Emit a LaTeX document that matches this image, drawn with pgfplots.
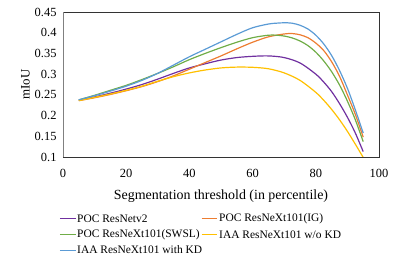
\documentclass[border=0pt]{standalone}
\usepackage{pgfplots}
\pgfplotsset{compat=1.18}
\usepackage{fontspec}
\setmainfont{Liberation Serif}
\definecolor{cpurple}{HTML}{7030A0}
\definecolor{corange}{HTML}{ED7D31}
\definecolor{cgreen}{HTML}{70AD47}
\definecolor{cyellow}{HTML}{FFC000}
\definecolor{cblue}{HTML}{5B9BD5}
\begin{document}
\begin{tikzpicture}
\begin{axis}[
  name=ax,
  scale only axis,
  width=316bp, height=145bp,
  xmin=0, xmax=100, ymin=0.1, ymax=0.45,
  xtick={0,20,...,100},
  ytick={0.1,0.15,...,0.46},
  major tick length=0pt,
  /pgf/number format/assume math mode=true,
  yticklabel style={/pgf/number format/fixed,/pgf/number format/precision=2,font=\fontsize{12.5}{14}\selectfont, xshift=-3bp},
  xticklabel style={font=\fontsize{12.5}{14}\selectfont, yshift=-9bp},
  axis line style={black!80, line width=0.5pt},
  xlabel={Segmentation threshold (in percentile)},
  ylabel={mIoU},
  xlabel style={font=\fontsize{14}{16}\selectfont, yshift=-5bp},
  ylabel style={font=\fontsize{13}{15}\selectfont, yshift=-2bp},
  every axis plot/.append style={smooth, line width=1.2pt, mark=none},
]
\addplot[cpurple] coordinates {(5,0.237)(10,0.245)(15,0.254)(20,0.264)(25,0.275)(30,0.288)(35,0.302)(40,0.315)(45,0.325)(50,0.334)(55,0.340)(60,0.343)(65,0.344)(70,0.340)(75,0.327)(80,0.300)(82.5,0.281)(85,0.258)(87.5,0.229)(90,0.196)(92.5,0.158)(95,0.113)};
\addplot[corange] coordinates {(5,0.236)(10,0.243)(15,0.251)(20,0.260)(25,0.270)(30,0.282)(35,0.296)(40,0.312)(45,0.328)(50,0.344)(55,0.361)(60,0.377)(65,0.390)(70,0.397)(72.5,0.398)(75,0.395)(77.5,0.388)(80,0.375)(82.5,0.357)(85,0.330)(87.5,0.295)(90,0.250)(92.5,0.203)(95,0.148)};
\addplot[cgreen] coordinates {(5,0.238)(10,0.249)(15,0.261)(20,0.273)(25,0.287)(30,0.302)(35,0.318)(40,0.335)(45,0.350)(50,0.364)(55,0.377)(60,0.388)(65,0.394)(67.5,0.394)(70,0.392)(72.5,0.3875)(75,0.380)(77.5,0.369)(80,0.353)(82.5,0.332)(85,0.306)(87.5,0.274)(90,0.235)(92.5,0.190)(95,0.137)};
\addplot[cyellow] coordinates {(5,0.236)(10,0.244)(15,0.252)(20,0.261)(25,0.271)(30,0.283)(35,0.294)(40,0.303)(45,0.310)(50,0.315)(55,0.317)(60,0.3165)(65,0.313)(70,0.303)(75,0.285)(80,0.256)(82.5,0.237)(85,0.215)(87.5,0.190)(90,0.162)(92.5,0.131)(95,0.099)};
\addplot[cblue] coordinates {(5,0.238)(10,0.248)(15,0.259)(20,0.271)(25,0.285)(30,0.302)(35,0.322)(40,0.342)(45,0.360)(50,0.378)(55,0.396)(60,0.412)(65,0.421)(67.5,0.423)(70,0.424)(72.5,0.423)(75,0.418)(77.5,0.409)(80,0.394)(82.5,0.373)(85,0.345)(87.5,0.309)(90,0.266)(92.5,0.214)(95,0.158)};
\draw[gray, line width=1.3pt] (rel axis cs:0,1) -- (rel axis cs:0,0);
\end{axis}
% legend (drawn below the axis)
\begin{scope}[shift={(ax.south west)}, every node/.style={anchor=west, inner sep=0pt, font=\fontsize{11.5}{13}\selectfont}]
  \draw[cpurple, line width=1pt] (-3bp,-61.3bp) -- (13bp,-61.3bp);
  \node at (14bp,-61.3bp) {POC ResNetv2};
  \draw[corange, line width=1pt] (138.7bp,-61.3bp) -- (154.3bp,-61.3bp);
  \node at (156bp,-61.3bp) {POC ResNeXt101(IG)};
  \draw[cgreen, line width=1pt] (-3bp,-77.3bp) -- (13bp,-77.3bp);
  \node at (14bp,-77.3bp) {POC ResNeXt101(SWSL)};
  \draw[cyellow, line width=1pt] (138.7bp,-77.3bp) -- (154.3bp,-77.3bp);
  \node at (156bp,-77.3bp) {IAA ResNeXt101 w/o KD};
  \draw[cblue, line width=1pt] (-3bp,-93bp) -- (13bp,-93bp);
  \node at (14bp,-93bp) {IAA ResNeXt101 with KD};
\end{scope}
\useasboundingbox (ax.south west) ++(-63bp,-108bp) rectangle ++(399bp,265bp);
\end{tikzpicture}
\end{document}
